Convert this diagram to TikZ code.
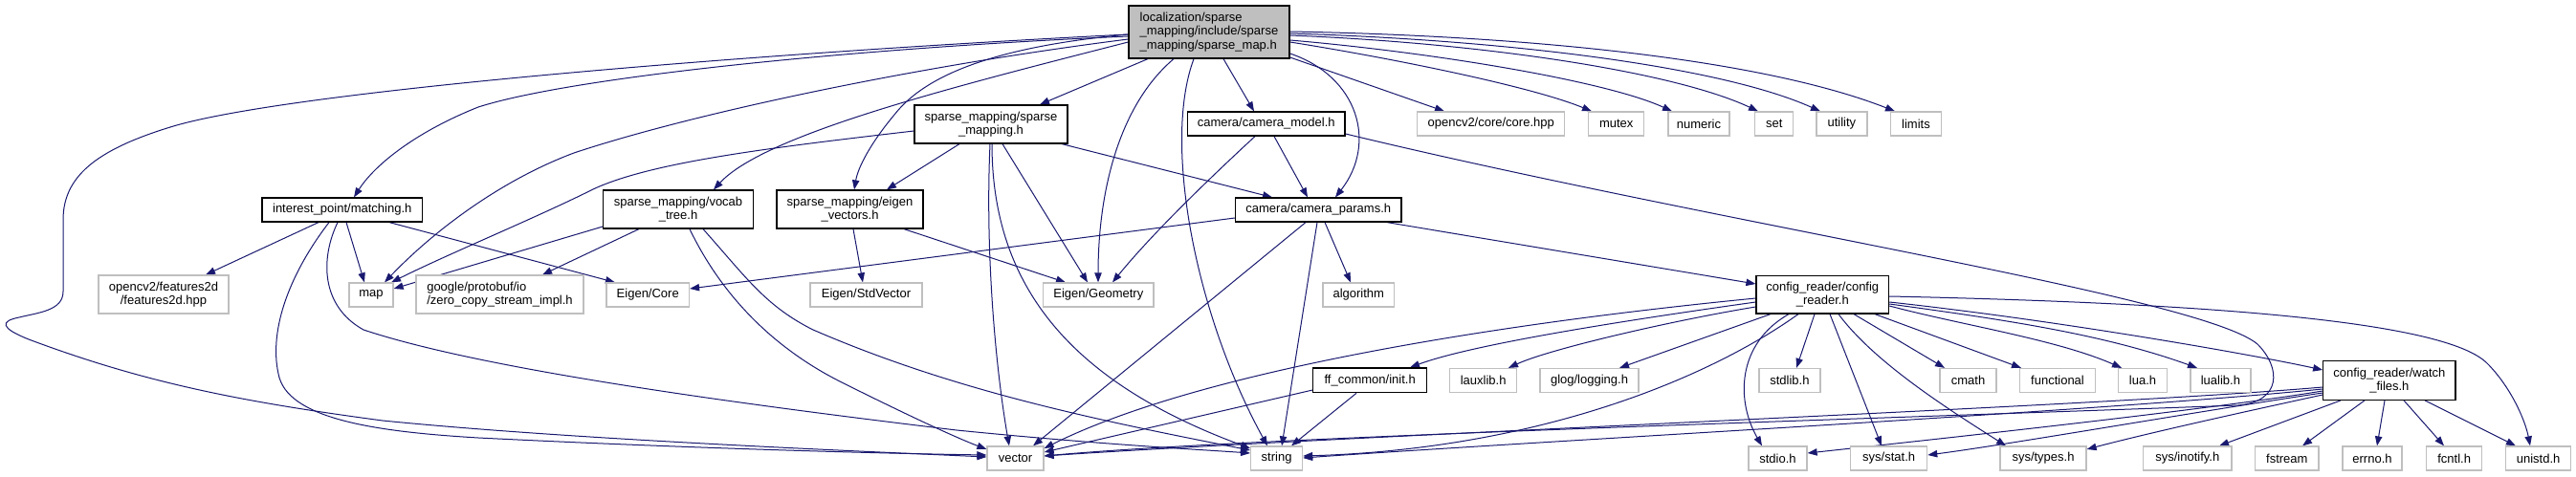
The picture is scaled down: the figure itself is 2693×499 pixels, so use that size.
\documentclass[tikz,border=0pt]{standalone}
\usepackage{fontspec}
\setmainfont{Liberation Sans}
\usetikzlibrary{arrows.meta}
\definecolor{edgeblue}{HTML}{191970}
\definecolor{extgray}{HTML}{BFBFBF}
\definecolor{maingray}{HTML}{BFBFBF}
\pgfdeclarelayer{bg}
\pgfsetlayers{bg,main}
\newcommand{\nodefont}{\fontsize{9.75pt}{10.75pt}\selectfont}
\newcommand{\nd}[7]{\node[#6, minimum width=#4*0.75pt, minimum height=#5*0.75pt] (#1) at (#2,#3) {#7};}
\tikzset{
  boxbase/.style={inner sep=0pt, line width=0.9pt, font=\nodefont},
  doc/.style={boxbase, draw=black, fill=white, align=center},
  ext/.style={boxbase, draw=extgray, fill=white, align=center},
  extleft/.style={boxbase, draw=extgray, fill=white, align=left},
  mainnode/.style={boxbase, draw=black, fill=maingray, align=left},
  edge/.style={draw=edgeblue, line width=0.75pt, -{Triangle[length=7.5pt,width=5.5pt]}}
}
\begin{document}
\begin{tikzpicture}[x=0.75pt,y=-0.75pt]
\useasboundingbox (0,0) rectangle (2693,499);
% nodes
\nd{M}{1264}{33.5}{168}{55}{mainnode}{localization/sparse\\\_mapping/include/sparse\\\_mapping/sparse\_map.h}
\nd{S}{1036}{130}{160}{40}{doc}{sparse\_mapping/sparse\\\_mapping.h}
\nd{CM}{1323.75}{129.5}{164.5}{25}{doc}{camera/camera\_model.h}
\nd{OC}{1558.7}{129.5}{154}{25}{ext}{opencv2/core/core.hpp}
\nd{MUT}{1689.75}{129.5}{58}{25}{ext}{mutex}
\nd{NUM}{1775.9}{129.5}{64}{25}{ext}{numeric}
\nd{SET}{1854.7}{129.5}{40}{25}{ext}{set}
\nd{UTI}{1925.4}{129.5}{53}{25}{ext}{utility}
\nd{LIM}{2003}{129.5}{53}{25}{ext}{limits}
\nd{MA}{357.75}{219.5}{167.5}{25}{doc}{interest\_point/matching.h}
\nd{V}{709}{219}{156.5}{40}{doc}{sparse\_mapping/vocab\\\_tree.h}
\nd{EV}{888.5}{219}{153}{40}{doc}{sparse\_mapping/eigen\\\_vectors.h}
\nd{CP}{1378.25}{219.5}{173.5}{25}{doc}{camera/camera\_params.h}
\nd{F2}{171}{308}{136}{40}{ext}{opencv2/features2d\\/features2d.hpp}
\nd{MAP}{388}{308.5}{46}{25}{ext}{map}
\nd{PB}{522.5}{308}{175}{40}{extleft}{google/protobuf/io\\/zero\_copy\_stream\_impl.h}
\nd{EC}{677.25}{308.5}{86.5}{25}{ext}{Eigen/Core}
\nd{ESV}{905.5}{308.5}{117}{25}{ext}{Eigen/StdVector}
\nd{EG}{1148.3}{308.5}{115.4}{25}{ext}{Eigen/Geometry}
\nd{ALG}{1420.3}{308.5}{74.6}{25}{ext}{algorithm}
\nd{CR}{1905.3}{308.35}{138.6}{39.3}{doc}{config\_reader/config\\\_reader.h}
\nd{FF}{1432.15}{397.85}{118.7}{25.7}{doc}{ff\_common/init.h}
\nd{LAUX}{1550.65}{398}{70}{25}{ext}{lauxlib.h}
\nd{GLOG}{1661.5}{398}{103}{25}{ext}{glog/logging.h}
\nd{STDL}{1870.9}{398}{64}{25}{ext}{stdlib.h}
\nd{CMATH}{2057.5}{398}{59}{25}{ext}{cmath}
\nd{FUNC}{2151}{398}{79}{25}{ext}{functional}
\nd{LUA}{2240}{398}{51}{25}{ext}{lua.h}
\nd{LUALIB}{2321.4}{398}{63}{25}{ext}{lualib.h}
\nd{W}{2497.85}{398}{138.3}{40.6}{doc}{config\_reader/watch\\\_files.h}
\nd{VEC}{1061.5}{479.5}{59}{25}{ext}{vector}
\nd{STR}{1334.6}{479.5}{54}{25}{ext}{string}
\nd{STDIO}{1858.5}{479.5}{61}{25}{ext}{stdio.h}
\nd{STAT}{1974.65}{479.5}{80}{25}{ext}{sys/stat.h}
\nd{TYPES}{2136}{479.5}{90}{25}{ext}{sys/types.h}
\nd{INO}{2286.75}{479.5}{92.5}{25}{ext}{sys/inotify.h}
\nd{FST}{2390.8}{479.5}{66.4}{25}{ext}{fstream}
\nd{ERR}{2480}{479.5}{62}{25}{ext}{errno.h}
\nd{FCN}{2565.6}{479.5}{58}{25}{ext}{fcntl.h}
\nd{UNI}{2653.55}{479.5}{67.7}{25}{ext}{unistd.h}
\begin{pgfonlayer}{bg}
\fill[white] (0,0) rectangle (2693,499);
% main node
\draw[edge] (M.west |- 0,38) .. controls (900,50) and (600,80) .. (500,112) .. controls (430,140) and (390,175) .. (MA.north -| 370,0);
\draw[edge] (M.west |- 0,36) .. controls (800,55) and (300,95) .. (178,133) .. controls (100,157) and (66,185) .. (66,230) -- (66,305) .. controls (66,325) and (40,327) .. (20,332) .. controls (0,336) and (0,343) .. (30,355) .. controls (150,400) and (250,420) .. (400,440) .. controls (600,460) and (900,472) .. (VEC.west |- 0,478);
\draw[edge] (M.west |- 0,41) .. controls (950,70) and (720,120) .. (600,160) .. controls (520,190) and (450,245) .. (MAP.north -| 402,0);
\draw[edge] (M.west |- 0,44) .. controls (1000,90) and (800,140) .. (V.north -| 746,0);
\draw[edge] (M.west |- 0,36) .. controls (1050,48) and (970,75) .. (935,120) .. controls (910,150) and (897,175) .. (EV.north -| 893,0);
\draw[edge] (M.south -| 1200,0) -- (S.north -| 1087,0);
\draw[edge] (M.south -| 1227,0) .. controls (1170,110) and (1148,200) .. (EG.north -| 1148,0);
\draw[edge] (M.south -| 1248,0) .. controls (1215,150) and (1250,330) .. (STR.north -| 1325,0);
\draw[edge] (M.south -| 1279,0) -- (CM.north -| 1311,0);
\draw[edge] (M.east |- 0,56) .. controls (1420,80) and (1440,150) .. (CP.north -| 1396,0);
\draw[edge] (M.east |- 0,60) -- (OC.north -| 1510,0);
\draw[edge] (M.east |- 0,44) .. controls (1450,60) and (1600,90) .. (MUT.north -| 1664,0);
\draw[edge] (M.east |- 0,42) .. controls (1500,55) and (1680,85) .. (NUM.north -| 1748,0);
\draw[edge] (M.east |- 0,37) .. controls (1550,45) and (1750,75) .. (SET.north -| 1838,0);
\draw[edge] (M.east |- 0,35) .. controls (1580,42) and (1800,70) .. (UTI.north -| 1903,0);
\draw[edge] (M.east |- 0,33) .. controls (1620,38) and (1850,65) .. (LIM.north -| 1981,0);
% matching
\draw[edge] (MA.south -| 344,0) .. controls (300,290) and (280,350) .. (292,395) .. controls (305,440) and (400,452) .. (500,458) .. controls (700,468) and (900,474) .. (VEC.west |- 0,476);
\draw[edge] (MA.south -| 353,0) .. controls (335,270) and (335,320) .. (380,345) .. controls (500,385) and (750,420) .. (1000,450) .. controls (1150,465) and (1250,470) .. (STR.west |- 0,474);
\draw[edge] (MA.south -| 333,0) -- (F2.north -| 215,0);
\draw[edge] (MA.south -| 362,0) -- (MAP.north -| 381,0);
\draw[edge] (MA.south -| 407,0) -- (EC.north -| 643,0);
% sparse_mapping
\draw[edge] (S.west |- 0,137) .. controls (800,155) and (680,170) .. (620,198) .. controls (560,228) and (470,265) .. (MAP.north -| 409,0);
\draw[edge] (S.south -| 1003,0) -- (EV.north -| 927,0);
\draw[edge] (S.south -| 1048,0) -- (EG.north -| 1137,0);
\draw[edge] (S.south -| 1110,0) -- (CP.north -| 1330,0);
\draw[edge] (S.south -| 1035,0) .. controls (1030,260) and (1040,380) .. (VEC.north -| 1055,0);
\draw[edge] (S.south -| 1037,0) .. controls (1037,300) and (1120,400) .. (STR.west |- 0,469);
% vocab
\draw[edge] (V.west |- 0,237) -- (MAP.east |- 0,302);
\draw[edge] (V.south -| 668,0) -- (PB.north -| 567,0);
\draw[edge] (V.south -| 721,0) .. controls (750,300) and (800,360) .. (880,400) .. controls (950,435) and (1000,458) .. (VEC.west |- 0,470);
\draw[edge] (V.south -| 735,0) .. controls (780,290) and (800,320) .. (850,345) .. controls (1000,410) and (1150,440) .. (STR.west |- 0,471);
% eigen vectors
\draw[edge] (EV.south -| 892,0) -- (ESV.north -| 902,0);
\draw[edge] (EV.south -| 945,0) -- (EG.north -| 1114,0);
% camera model
\draw[edge] (CM.south -| 1312,0) .. controls (1250,200) and (1200,250) .. (EG.north -| 1163,0);
\draw[edge] (CM.south -| 1332,0) -- (CP.north -| 1367,0);
\draw[edge] (CM.east |- 0,140) .. controls (1800,235) and (2300,310) .. (2360,360) .. controls (2385,385) and (2385,420) .. (2340,424) .. controls (1900,440) and (1300,458) .. (VEC.east |- 0,477);
% camera params
\draw[edge] (CP.west |- 0,228) -- (EC.east |- 0,302);
\draw[edge] (CP.south -| 1385,0) -- (ALG.north -| 1412,0);
\draw[edge] (CP.south -| 1450,0) -- (CR.west |- 0,297);
\draw[edge] (CP.south -| 1365,0) -- (VEC.north -| 1080,0);
\draw[edge] (CP.south -| 1377,0) -- (STR.north -| 1340,0);
% config reader
\draw[edge] (CR.west |- 0,316) .. controls (1700,335) and (1540,360) .. (FF.north -| 1474,0);
\draw[edge] (CR.west |- 0,321) .. controls (1750,335) and (1620,365) .. (LAUX.north -| 1577,0);
\draw[edge] (CR.south -| 1851,0) -- (GLOG.north -| 1693,0);
\draw[edge] (CR.south -| 1897,0) -- (STDL.north -| 1878,0);
\draw[edge] (CR.south -| 1938,0) -- (CMATH.north -| 2033,0);
\draw[edge] (CR.south -| 1960,0) -- (FUNC.north -| 2113,0);
\draw[edge] (CR.east |- 0,320) .. controls (2050,340) and (2150,355) .. (LUA.north -| 2218,0);
\draw[edge] (CR.east |- 0,318) .. controls (2100,335) and (2200,350) .. (LUALIB.north -| 2297,0);
\draw[edge] (CR.east |- 0,316) .. controls (2150,335) and (2350,370) .. (W.west |- 0,387);
\draw[edge] (CR.east |- 0,310) .. controls (2350,318) and (2560,340) .. (2600,380) .. controls (2625,405) and (2640,440) .. (UNI.north -| 2645,0);
\draw[edge] (CR.south -| 1870,0) .. controls (1815,360) and (1815,420) .. (STDIO.north -| 1842,0);
\draw[edge] (CR.south -| 1913,0) -- (STAT.north -| 1967,0);
\draw[edge] (CR.south -| 1922,0) .. controls (1960,380) and (2040,430) .. (TYPES.north -| 2097,0);
\draw[edge] (CR.south -| 1880,0) .. controls (1780,400) and (1600,470) .. (STR.east |- 0,477);
\draw[edge] (CR.west |- 0,312) .. controls (1550,340) and (1250,390) .. (VEC.east |- 0,469);
% ff_common
\draw[edge] (FF.west |- 0,408) -- (VEC.east |- 0,473);
\draw[edge] (FF.south -| 1418,0) -- (STR.north -| 1350,0);
% watch files
\draw[edge] (W.south -| 2447,0) -- (INO.north -| 2320,0);
\draw[edge] (W.south -| 2472,0) -- (FST.north -| 2407,0);
\draw[edge] (W.south -| 2493,0) -- (ERR.north -| 2485,0);
\draw[edge] (W.south -| 2513,0) -- (FCN.north -| 2555,0);
\draw[edge] (W.south -| 2535,0) -- (UNI.north -| 2630,0);
\draw[edge] (W.west |- 0,413) .. controls (2350,430) and (2250,452) .. (TYPES.east |- 0,470);
\draw[edge] (W.west |- 0,411) .. controls (2300,430) and (2100,465) .. (STAT.east |- 0,476);
\draw[edge] (W.west |- 0,409) .. controls (2300,430) and (2000,462) .. (STDIO.east |- 0,474);
\draw[edge] (W.west |- 0,407) .. controls (2200,430) and (1600,462) .. (STR.east |- 0,479);
\draw[edge] (W.west |- 0,405) .. controls (2200,425) and (1400,456) .. (VEC.east |- 0,477);
\end{pgfonlayer}
\end{tikzpicture}
\end{document}
